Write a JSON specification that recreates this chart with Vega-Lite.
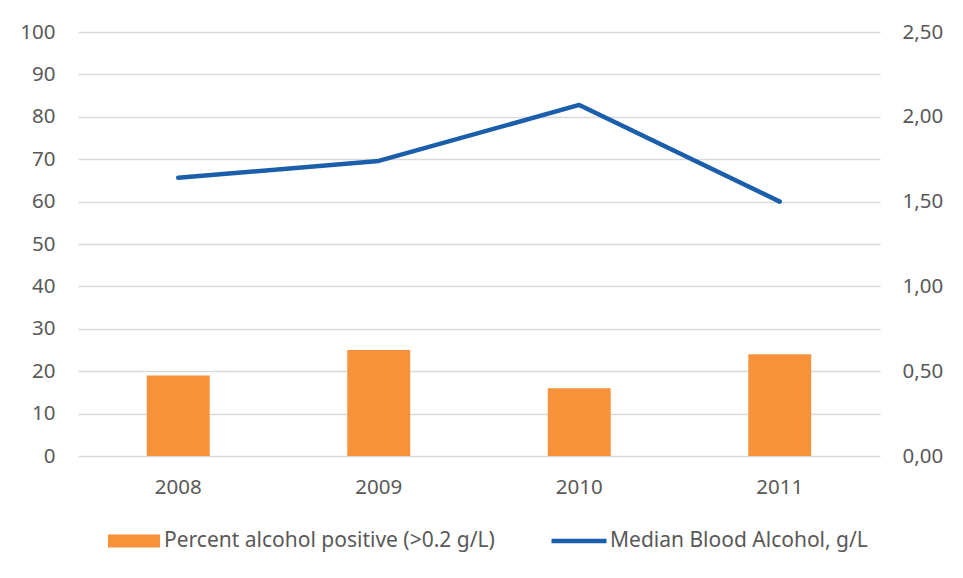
{
  "$schema": "https://vega.github.io/schema/vega-lite/v6.json",
  "autosize": {"type": "none"},
  "width": 802,
  "height": 424,
  "padding": {"left": 78, "top": 32, "right": 83, "bottom": 122},
  "background": "white",
  "config": {
    "view": {"stroke": null},
    "font": "Noto Sans",
    "axis": {"labelFont": "Noto Sans", "labelFontSize": 20.5, "labelColor": "#595959", "domain": false, "ticks": false}
  },
  "data": {
    "values": [
      {"year": "2008", "pct": 19, "median": 1.64, "barSeries": "Percent alcohol positive (>0.2 g/L)", "lineSeries": "Median Blood Alcohol, g/L"},
      {"year": "2009", "pct": 25, "median": 1.74, "barSeries": "Percent alcohol positive (>0.2 g/L)", "lineSeries": "Median Blood Alcohol, g/L"},
      {"year": "2010", "pct": 16, "median": 2.07, "barSeries": "Percent alcohol positive (>0.2 g/L)", "lineSeries": "Median Blood Alcohol, g/L"},
      {"year": "2011", "pct": 24, "median": 1.50, "barSeries": "Percent alcohol positive (>0.2 g/L)", "lineSeries": "Median Blood Alcohol, g/L"}
    ]
  },
  "encoding": {
    "x": {
      "field": "year", "type": "nominal",
      "scale": {"paddingInner": 0.686, "paddingOuter": 0.343},
      "axis": {"title": null, "labelAngle": 0, "labelPadding": 21, "grid": false}
    }
  },
  "layer": [
    {
      "mark": {"type": "bar"},
      "encoding": {
        "y": {
          "field": "pct", "type": "quantitative",
          "scale": {"domain": [0, 100], "nice": false},
          "axis": {"title": null, "values": [0,10,20,30,40,50,60,70,80,90,100], "grid": true, "gridColor": "#D9D9D9", "gridWidth": 1.5, "labelPadding": 23}
        },
        "fill": {
          "field": "barSeries", "type": "nominal",
          "scale": {"range": ["#F7923A"]},
          "legend": {"title": null, "orient": "none", "legendX": 43, "legendY": 496, "symbolType": "M-2,-0.5H2V0.5H-2Z", "symbolSize": 676, "symbolStrokeWidth": 0, "labelFont": "Noto Sans", "labelFontSize": 21, "labelColor": "#595959", "labelOffset": 17, "labelLimit": 0}
        }
      }
    },
    {
      "mark": {"type": "line", "strokeWidth": 4.5, "strokeCap": "round", "strokeJoin": "round"},
      "encoding": {
        "y": {
          "field": "median", "type": "quantitative",
          "scale": {"domain": [0, 2.5], "nice": false},
          "axis": {"title": null, "orient": "right", "values": [0, 0.5, 1, 1.5, 2, 2.5], "grid": false, "labelPadding": 22, "labelExpr": "replace(format(datum.value, '.2f'), '.', ',')"}
        },
        "stroke": {
          "field": "lineSeries", "type": "nominal",
          "scale": {"range": ["#1B5EAB"]},
          "legend": {"title": null, "orient": "none", "legendX": 471, "legendY": 479, "symbolType": "stroke", "symbolSize": 3025, "symbolStrokeWidth": 4.5, "labelFont": "Noto Sans", "labelFontSize": 21, "labelColor": "#595959", "labelOffset": 1, "labelLimit": 0}
        }
      }
    }
  ],
  "resolve": {"scale": {"y": "independent", "fill": "independent", "stroke": "independent"}}
}
